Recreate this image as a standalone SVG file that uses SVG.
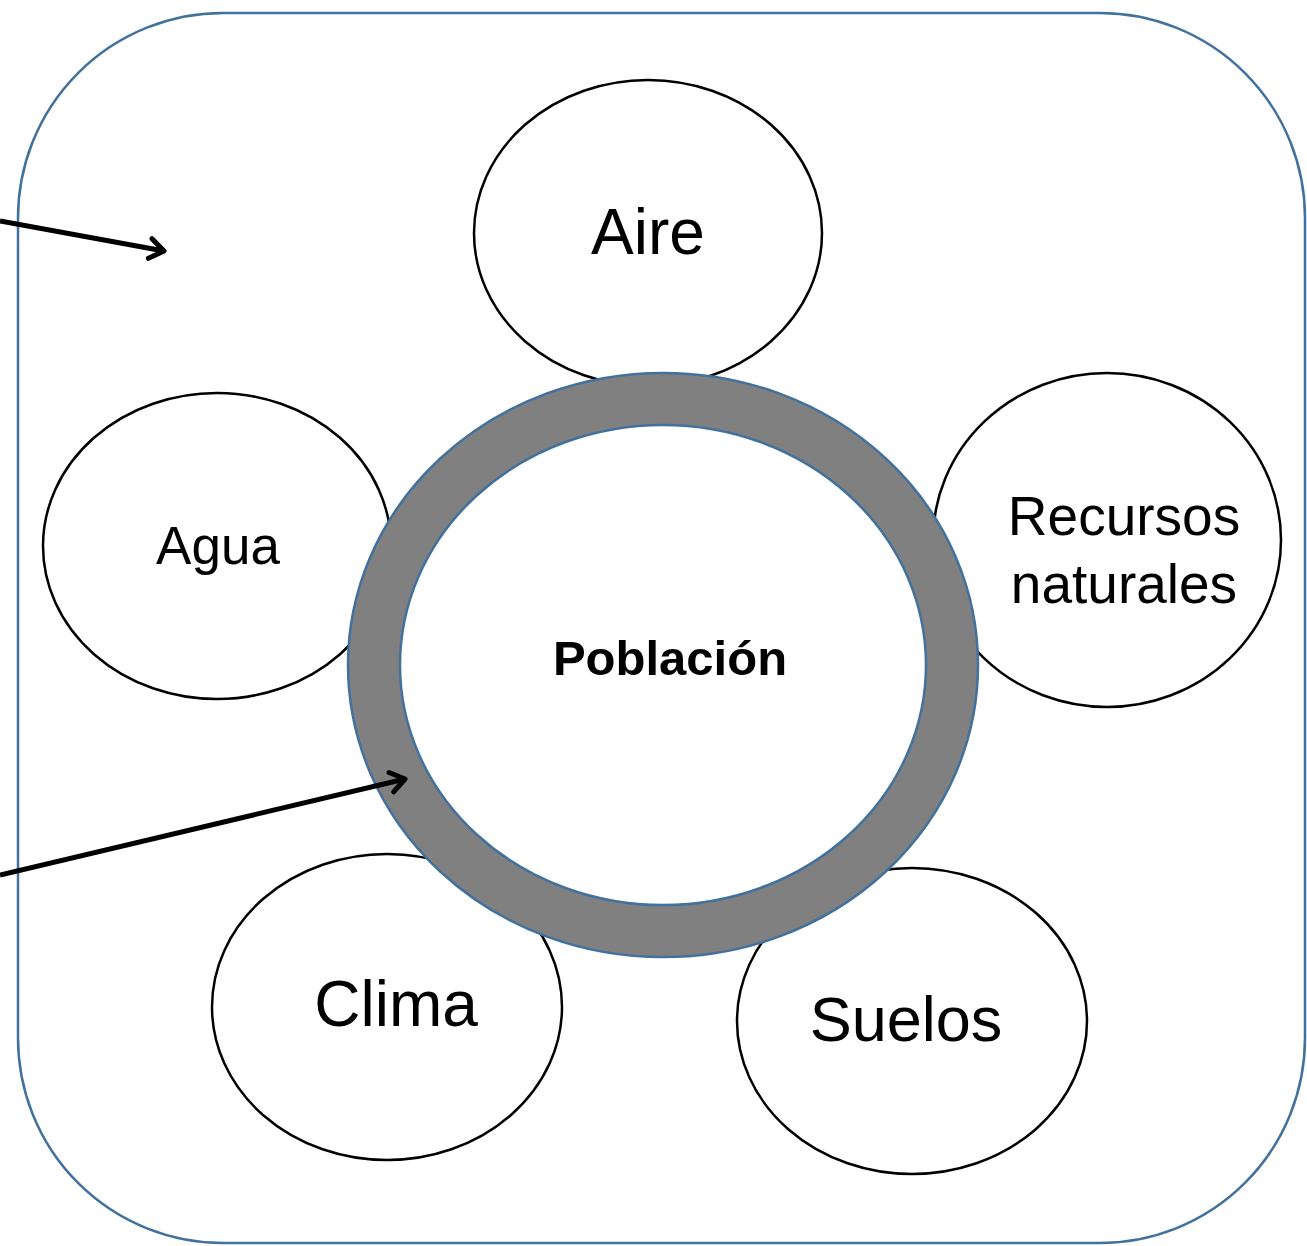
<svg xmlns="http://www.w3.org/2000/svg" width="1307" height="1246" viewBox="0 0 1307 1246">
<style>
.frame{fill:#fff;stroke:#41719c;stroke-width:2.5}
.bub{fill:#fff;stroke:#000;stroke-width:2.5}
.ring{fill:#808080;stroke:#41719c;stroke-width:2.5;fill-rule:evenodd}
.t{font-family:"Liberation Sans",Arial,sans-serif;fill:#000;text-anchor:middle}
.conn{stroke:#000;stroke-width:5;fill:none}
</style>
<defs>
<marker id="arr" markerUnits="userSpaceOnUse" viewBox="-20 -14 24 28" markerWidth="24" markerHeight="28" refX="0" refY="0" orient="auto">
<polyline points="-14,-10 0,0 -14,10" fill="none" stroke="#000" stroke-width="5" stroke-linecap="round" stroke-linejoin="round"/>
</marker>
</defs>
<rect id="frame" class="frame" x="18" y="13" width="1287" height="1230" rx="205" ry="205"/>
<g id="aire"><ellipse class="bub" cx="648" cy="233" rx="174" ry="153"/><text class="t" x="648" y="254" font-size="64">Aire</text></g>
<g id="agua"><ellipse class="bub" cx="217" cy="546" rx="174" ry="153"/><text class="t" x="218" y="564" font-size="53">Agua</text></g>
<g id="recursos"><ellipse class="bub" cx="1107" cy="540" rx="174" ry="167"/><text class="t" x="1124" y="535" font-size="55">Recursos</text><text class="t" x="1124" y="603" font-size="55">naturales</text></g>
<g id="clima"><ellipse class="bub" cx="387" cy="1007" rx="175" ry="153"/><text class="t" x="396" y="1026" font-size="64">Clima</text></g>
<g id="suelos"><ellipse class="bub" cx="912" cy="1021" rx="175" ry="153"/><text class="t" x="906" y="1041" font-size="63">Suelos</text></g>
<g id="poblacion"><path class="ring" d="M348,665a315,292 0 1,0 630,0a315,292 0 1,0 -630,0Z M400,665a263,240 0 1,0 526,0a263,240 0 1,0 -526,0Z"/><text class="t" x="670" y="675" font-size="49" font-weight="bold">Población</text></g>
<g id="connectors">
<line class="conn" x1="0" y1="221" x2="164" y2="251" marker-end="url(#arr)"/>
<line class="conn" x1="0" y1="875" x2="405" y2="779" marker-end="url(#arr)"/>
</g>
</svg>
